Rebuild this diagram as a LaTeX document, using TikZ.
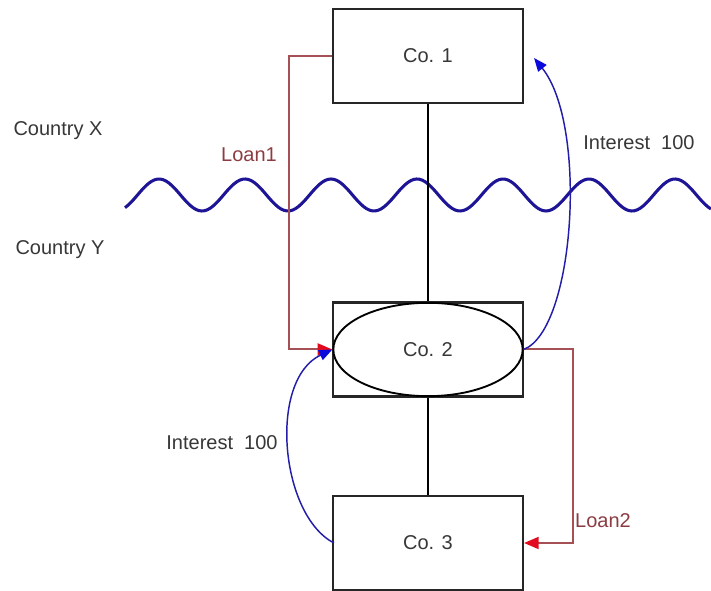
\documentclass[tikz,border=0pt]{standalone}
\usepackage{fontspec}
\setmainfont{Liberation Sans}
\usetikzlibrary{shapes.geometric,arrows.meta}
\definecolor{loanc}{RGB}{165,80,85}
\definecolor{loantxt}{RGB}{140,60,65}
\definecolor{arrred}{RGB}{225,10,30}
\definecolor{intc}{RGB}{35,30,170}
\definecolor{arrblue}{RGB}{10,10,220}
\definecolor{wavec}{RGB}{30,20,150}
\definecolor{txtc}{RGB}{55,55,55}
\begin{document}
\begin{tikzpicture}[x=0.75pt,y=-0.75pt,
  cobox/.style={draw=black!85,line width=1.6pt,fill=white,minimum width=142.5pt,minimum height=70.5pt,inner sep=0pt,text=txtc,font=\fontsize{15pt}{18pt}\selectfont},
  coell/.style={ellipse,draw=black,line width=1.4pt,fill=white,minimum width=142pt,minimum height=70pt,inner sep=0pt,text=txtc,font=\fontsize{15pt}{18pt}\selectfont},
  lbl/.style={text=txtc,font=\fontsize{15pt}{18pt}\selectfont,inner sep=0pt},
  loanlbl/.style={text=loantxt,font=\fontsize{15pt}{18pt}\selectfont,inner sep=0pt},
  link/.style={draw=black,line width=1.3pt},
  loan/.style={draw=loanc,line width=1.5pt,-{Triangle[length=11pt,width=9pt,color=arrred]}},
  interest/.style={draw=intc,line width=1.1pt,-{Triangle[length=10pt,width=8pt,color=arrblue]}},
  wave/.style={draw=wavec,line width=2.3pt}]
\useasboundingbox (0,0) rectangle (711,591);
\draw[wave] plot[domain=125:711,samples=200,smooth] (\x,{195-16*cos(4.186*(\x-159))});
\node[cobox] (c1) at (428,56) {Co. 1};
\node[cobox] (c2) at (428,349.5) {};
\node[coell] (e2) at (428,349.5) {Co. 2};
\node[cobox] (c3) at (428,543) {Co. 3};
\draw[link] (c1.south) -- (c2.north);
\draw[link] (c2.south) -- (c3.north);
\draw[loan] (c1.west) -- ++(-43,0) |- (e2.west);
\draw[loan] (e2.east) -- ++(49,0) |- (c3.east);
\draw[interest] (e2.east) .. controls (575,330) and (588,125) .. ([xshift=7.5pt,yshift=-1.5pt]c1.east);
\draw[interest] ([xshift=1.5pt]c3.west) .. controls (280,515) and (268,380) .. (e2.west);
\node[lbl] (cx) at (58,131) {Country X};
\node[lbl] (cy) at (60,250) {Country Y};
\node[loanlbl] (l1) at (249,155) {Loan1};
\node[loanlbl] (l2) at (603,521) {Loan2};
\node[lbl] (i1) at (639,143) {Interest\ \ 100};
\node[lbl] (i2) at (222,443) {Interest\ \ 100};
\end{tikzpicture}
\end{document}
